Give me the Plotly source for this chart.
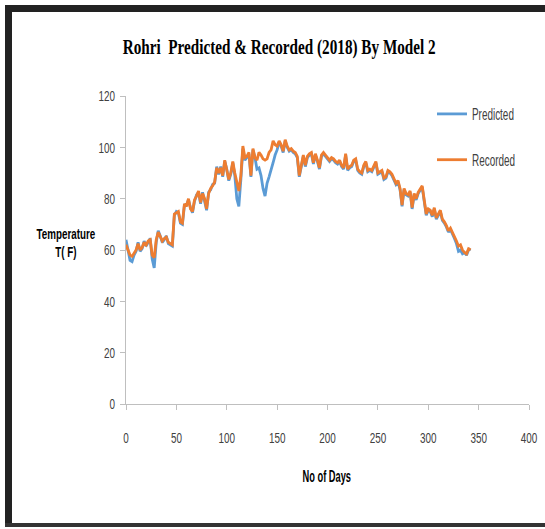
import plotly.graph_objects as go

days = list(range(0, 343, 2))

recorded = [
    62, 60, 58, 57.5, 59, 60, 62.5, 60, 61, 63,
    62, 63.5, 64, 58, 57, 64, 67, 65, 63.5, 64.5,
    65, 63, 62.5, 62, 74, 74.5, 75, 71, 70.5, 78,
    77, 80, 76, 75, 79.5, 81, 83, 78.5, 82, 80,
    76, 82, 84, 85, 86.5, 92, 90, 92, 89, 95,
    91, 87.5, 90, 94.5, 90, 86, 83, 89, 100.5, 96,
    96.5, 98, 89, 99.5, 96, 95, 98, 97, 95.5, 95,
    95.5, 98, 99, 102.5, 101, 100.5, 102.5, 101, 98.5, 103,
    100.5, 99, 99.5, 98.5, 98, 96.5, 89, 93, 97, 93,
    96.5, 97.5, 98, 94, 97.5, 95, 92, 97, 98, 97,
    96, 95, 96, 95.5, 94.5, 94, 95, 93, 92, 97.5,
    91.5, 92.5, 93, 95, 95.5, 91.5, 90.5, 90, 93, 94.5,
    91, 91.5, 91, 93, 94.5, 90, 90.5, 91, 88, 88.5,
    91, 90.5, 89.5, 88, 86, 87, 84, 77.5, 84, 82,
    81.5, 83, 76.5, 82, 80, 82.5, 84, 85, 79.5, 74,
    76, 75.5, 73.5, 76.5, 72.5, 74, 75.5, 72, 71, 69.5,
    67.5, 68.5, 67, 65, 63.5, 61.5, 62, 60, 59, 58.5,
    60.5, 60,
]

predicted = [
    64, 59.5, 56, 55.5, 58, 59.5, 63, 59.5, 60.5, 63.5,
    61.5, 63, 64.5, 56.5, 53, 63, 67.5, 65.5, 63, 64,
    65.5, 62.5, 62, 61.5, 73.5, 75, 74.5, 70.5, 70, 77.5,
    77.5, 79.5, 76.5, 74.5, 79, 81.5, 82.5, 78, 82.5, 79.5,
    75.5, 82.5, 83.5, 85.5, 86, 92.5, 89.5, 92.5, 88.5, 94.5,
    91.5, 87, 89.5, 94, 89, 80, 77, 87.5, 99.5, 95,
    96, 97.5, 88.5, 99, 96, 91.5, 92, 89, 84, 81,
    86, 88.5, 91, 94, 97, 99, 102, 100.5, 98, 102.5,
    100, 98.5, 99, 98, 97.5, 96, 88.5, 92.5, 96.5, 92.5,
    96, 97, 97.5, 93.5, 97, 94.5, 91.5, 96.5, 97.5, 96.5,
    95.5, 94.5, 95.5, 95, 94, 93.5, 94.5, 92.5, 91.5, 97,
    91, 92, 92.5, 94.5, 95, 91, 90, 89.5, 92.5, 94,
    90.5, 91, 90.5, 92.5, 94, 89.5, 90, 90.5, 87.5, 88,
    90.5, 90, 89, 87.5, 85.5, 86.5, 83.5, 77, 83.5, 81.5,
    81, 82.5, 76, 81.5, 79.5, 82, 83.5, 84.5, 79, 73.5,
    75.5, 75, 73, 76, 72, 73.5, 75, 71.5, 70.5, 69,
    67, 68, 66.5, 64.5, 62.5, 59.5, 60, 58.5, 59, 58,
    60, 60.5,
]

x_ticks = [0, 50, 100, 150, 200, 250, 300, 350, 400]
y_ticks = [0, 20, 40, 60, 80, 100, 120]

SANS = "Liberation Sans, Arial, sans-serif"
SERIF = "Liberation Serif, Times New Roman, serif"

fig = go.Figure()
fig.add_trace(go.Scatter(x=days, y=predicted, mode="lines", name="Predicted",
                         legendgroup="p",
                         line=dict(color="#5B9BD5", width=2.8)))
fig.add_trace(go.Scatter(x=days, y=recorded, mode="lines", name="Recorded",
                         legendgroup="r",
                         line=dict(color="#ED7D31", width=2.8)))

L, R, T, B = 126, 16, 96, 125
W, H = 545, 529
PW, PH = W - L - R, H - T - B


def px(xp):
    return (xp - L) / PW


def py(yp):
    return (H - B - yp) / PH


axis_common = dict(showgrid=False, zeroline=False, showline=True,
                   linecolor="#bfbfbf", linewidth=1, ticks="outside",
                   ticklen=5, tickcolor="#bfbfbf",
                   tickfont=dict(family=SANS, size=15, color="#404040"))

fig.update_xaxes(range=[0, 400], tickvals=x_ticks, ticklabelstandoff=15,
                 **axis_common)
fig.update_yaxes(range=[0, 120], tickvals=y_ticks, ticklabelstandoff=2,
                 **axis_common)

shapes = [
    dict(type="rect", xref="paper", yref="paper", x0=px(5), x1=px(545),
         y0=py(12), y1=py(5), fillcolor="#222222", line=dict(width=0)),
    dict(type="rect", xref="paper", yref="paper", x0=px(5), x1=px(12),
         y0=py(527), y1=py(5), fillcolor="#222222", line=dict(width=0)),
    dict(type="rect", xref="paper", yref="paper", x0=px(5), x1=px(545),
         y0=py(527), y1=py(523), fillcolor="#333333", line=dict(width=0)),
]

annotations = [
    dict(text="<b>Rohri  Predicted &amp; Recorded (2018) By Model 2</b>",
         xref="paper", yref="paper", x=px(279), y=py(47),
         xanchor="center", yanchor="middle", showarrow=False,
         font=dict(family=SERIF, size=21, color="#000000")),
    dict(text="<b>No of Days</b>", xref="paper", yref="paper",
         x=px(327), y=py(476), xanchor="center", yanchor="middle",
         showarrow=False, font=dict(family=SANS, size=16, color="#000000")),
    dict(text="<b>Temperature</b><br><b>T( F)</b>", xref="paper", yref="paper",
         x=px(66), y=py(243), xanchor="center", yanchor="middle",
         showarrow=False, align="center",
         font=dict(family=SANS, size=14, color="#000000")),
]

fig.update_layout(
    width=W, height=H,
    margin=dict(l=L, r=R, t=T, b=B, pad=0, autoexpand=False),
    paper_bgcolor="white", plot_bgcolor="white",
    shapes=shapes, annotations=annotations,
    showlegend=True,
    legend=dict(x=px(432), y=py(97), xanchor="left", yanchor="top",
                traceorder="grouped", tracegroupgap=22,
                bgcolor="rgba(0,0,0,0)",
                font=dict(family=SANS, size=16, color="#404040")),
)

post = """
document.documentElement.style.overflow = 'hidden';
document.body.style.margin = '0';
document.body.style.overflow = 'hidden';
var gd = document.getElementById('{plot_id}');
function squeeze(el, f, abs) {
  var w = el.getComputedTextLength();
  if (!w) return;
  el.setAttribute('lengthAdjust', 'spacingAndGlyphs');
  el.setAttribute('textLength', abs ? abs : w * f);
}
gd.querySelectorAll('.xtick text, .ytick text').forEach(function (t) { squeeze(t, 0.66); });
gd.querySelectorAll('.legendtext').forEach(function (t) { squeeze(t, 0.62); });
gd.querySelectorAll('.annotation-text').forEach(function (t) {
  var s = t.textContent;
  if (s.indexOf('Rohri') === 0) { squeeze(t, 0, 313); }
  else if (s.indexOf('No of') === 0) { squeeze(t, 0.58); }
  else {
    var lines = t.querySelectorAll('tspan.line');
    if (lines.length) { lines.forEach(function (l) { squeeze(l, 0.7); }); }
    else { squeeze(t, 0.7); }
  }
});
"""

fig.write_html("out.html", post_script=post,
               config={"responsive": False, "displayModeBar": False})
